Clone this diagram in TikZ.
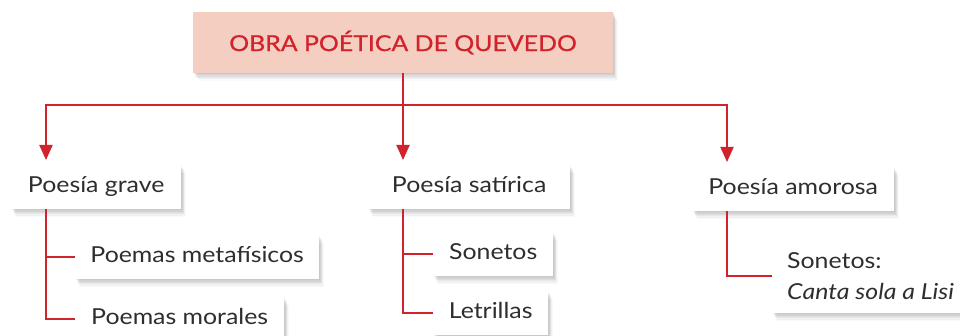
\documentclass[tikz,border=0pt]{standalone}
\usepackage{fontspec}
\setmainfont{Lato}[FakeStretch=1.13]
\newfontfamily\titlefont{Lato}[FakeStretch=1.13, FakeBold=0.8]
\usetikzlibrary{arrows.meta,shadows}
\definecolor{qred}{HTML}{D2232D}
\definecolor{qpink}{HTML}{F4CFC1}
\definecolor{qtext}{HTML}{2E2E2E}
\tikzset{
  qshadow/.style={
    drop shadow={shadow xshift=0.7pt, shadow yshift=-1.2pt, fill=black, opacity=0.05},
    drop shadow={shadow xshift=1.5pt, shadow yshift=-2.5pt, fill=black, opacity=0.05},
    drop shadow={shadow xshift=2.3pt, shadow yshift=-3.8pt, fill=black, opacity=0.04},
    drop shadow={shadow xshift=3.1pt, shadow yshift=-5.1pt, fill=black, opacity=0.035},
    drop shadow={shadow xshift=3.9pt, shadow yshift=-6.4pt, fill=black, opacity=0.03},
    drop shadow={shadow xshift=4.7pt, shadow yshift=-7.7pt, fill=black, opacity=0.025}},
  box/.style={anchor=north west, fill=white, text=qtext, font=\fontsize{22}{26}\selectfont,
    inner xsep=2pt, inner ysep=0pt, minimum height=44pt, text height=16pt, text depth=5pt, qshadow},
  boxtwo/.style={anchor=north west, fill=white, text=qtext, font=\fontsize{22}{31}\selectfont,
    inner xsep=15pt, inner ysep=8pt, minimum height=74pt, minimum width=186pt, align=left, qshadow},
  titlebox/.style={fill=qpink, text=qred, font=\titlefont\fontsize{22}{26}\selectfont,
    inner xsep=2pt, minimum width=420pt, minimum height=61pt, qshadow},
  link/.style={draw=qred, line width=2pt},
  arr/.style={link, -{Triangle[width=13pt,length=15pt]}, shorten >=5pt}
}
\begin{document}
\begin{tikzpicture}[x=1pt,y=-1pt]
\clip (0,0) rectangle (960,336);
\fill[white] (0,0) rectangle (960,336);
\node[titlebox] (T) at (403,42.5) {OBRA POÉTICA DE QUEVEDO};
\node[box, minimum width=170pt] (G) at (11,165) {Poesía grave};
\node[box, minimum width=202pt] (S) at (368,165) {Poesía satírica};
\node[box, minimum width=202pt] (A) at (692,167) {Poesía amorosa};
\node[box, minimum width=244pt] (G1) at (75,235) {Poemas metafísicos};
\node[box, minimum width=209pt] (G2) at (75,297) {Poemas morales};
\node[box, minimum width=120pt] (S1) at (433,232) {Sonetos};
\node[box, minimum width=115pt] (S2) at (433,291) {Letrillas};
\node[boxtwo] (A1) at (772,239) {Sonetos:\\\textit{Canta sola a Lisi}};
\coordinate (J) at (403,105);
\coordinate (JL) at (46,105);
\coordinate (JR) at (727,105);
\draw[link] (T.south) -- (J);
\draw[link, line cap=rect] (JL) -- (JR);
\draw[arr] (JL) -- (JL |- G.north);
\draw[arr] (J) -- (J |- S.north);
\draw[arr] (JR) -- (JR |- A.north);
\draw[link] (G.south -| JL) |- (G2.west);
\draw[link] (G1.west) -- (G1.west -| JL);
\draw[link] (S.south -| J) |- (S2.west);
\draw[link] (S1.west) -- (S1.west -| J);
\draw[link] (A.south -| JR) |- (A1.west);
\end{tikzpicture}
\end{document}
